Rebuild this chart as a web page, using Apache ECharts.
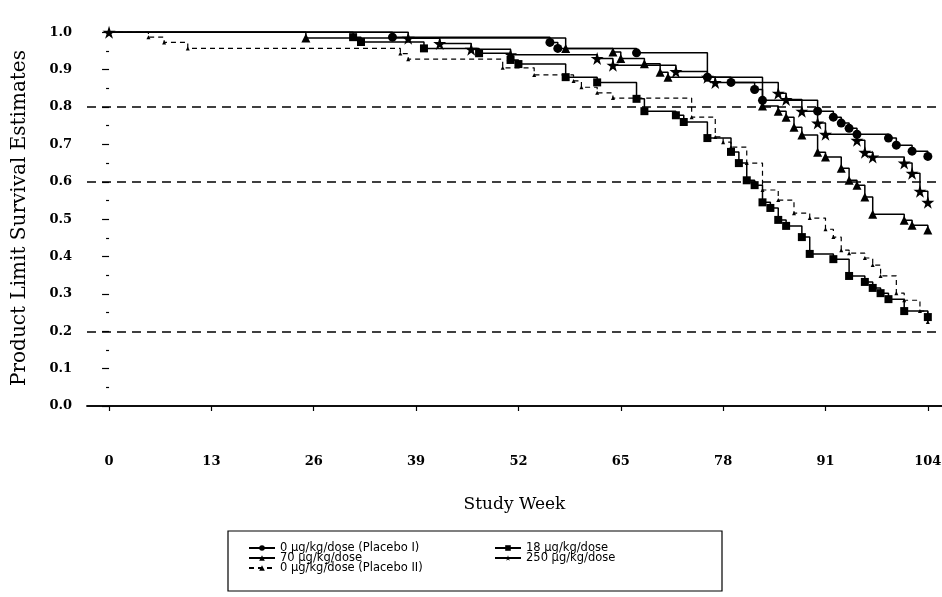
<!DOCTYPE html>
<html>
<head>
<meta charset="utf-8">
<script src="https://cdn.jsdelivr.net/npm/echarts@6/dist/echarts.min.js"></script>
<style>
html,body{margin:0;padding:0;background:#fff;}
#chart{width:942px;height:597px;}
</style>
</head>
<body>
<div id="chart"></div>
<script>
// ---- tick labels ----
const xTicks = [0, 13, 26, 39, 52, 65, 78, 91, 104];
const yTicks = [0.0, 0.1, 0.2, 0.3, 0.4, 0.5, 0.6, 0.7, 0.8, 0.9, 1.0];
const yMinorTicks = [0.05, 0.15, 0.25, 0.35, 0.45, 0.55, 0.65, 0.75, 0.85, 0.95];
const refLines = [0.8, 0.6, 0.2];

// ---- series names ----
const namePlaceboI = '0 \u00b5g/kg/dose (Placebo I)';
const name70 = '70 \u00b5g/kg/dose';
const namePlaceboII = '0 \u00b5g/kg/dose (Placebo II)';
const name18 = '18 \u00b5g/kg/dose';
const name250 = '250 \u00b5g/kg/dose';

// ---- Kaplan-Meier estimates (week, survival) ----
const placeboIWeeks = [0, 36, 56, 57, 67, 76, 79, 82, 83, 90, 92, 93, 94, 95, 99, 100, 102, 104];
const placeboISurv  = [1, 0.987, 0.973, 0.957, 0.945, 0.88, 0.866, 0.847, 0.818, 0.789, 0.773, 0.757, 0.743, 0.727, 0.717, 0.698, 0.682, 0.668];

const dose70Weeks = [0, 25, 58, 64, 65, 68, 70, 71, 83, 85, 86, 87, 88, 90, 91, 93, 94, 95, 96, 97, 101, 102, 104];
const dose70Surv  = [1, 0.985, 0.957, 0.947, 0.93, 0.916, 0.893, 0.88, 0.803, 0.789, 0.773, 0.746, 0.725, 0.679, 0.666, 0.636, 0.604, 0.591, 0.559, 0.513, 0.497, 0.484, 0.471];

const placeboIIWeeks = [0, 5, 7, 10, 37, 38, 50, 54, 59, 60, 62, 64, 74, 77, 78, 79, 81, 83, 85, 87, 89, 91, 92, 93, 94, 96, 97, 98, 100, 101, 103, 104];
const placeboIISurv  = [1, 0.987, 0.973, 0.957, 0.943, 0.928, 0.905, 0.886, 0.87, 0.853, 0.838, 0.824, 0.773, 0.72, 0.706, 0.693, 0.65, 0.578, 0.551, 0.516, 0.503, 0.473, 0.452, 0.417, 0.409, 0.396, 0.377, 0.348, 0.302, 0.283, 0.254, 0.225];

const dose18Weeks = [0, 31, 32, 40, 47, 51, 52, 58, 62, 67, 68, 72, 73, 76, 79, 80, 81, 82, 83, 84, 85, 86, 88, 89, 92, 94, 96, 97, 98, 99, 101, 104];
const dose18Surv  = [1, 0.987, 0.974, 0.957, 0.944, 0.926, 0.915, 0.88, 0.866, 0.822, 0.789, 0.778, 0.76, 0.717, 0.68, 0.65, 0.604, 0.591, 0.545, 0.53, 0.498, 0.482, 0.452, 0.407, 0.393, 0.348, 0.332, 0.316, 0.302, 0.286, 0.254, 0.238];

const dose250Weeks = [0, 38, 42, 46, 51, 62, 64, 72, 76, 77, 85, 86, 88, 90, 91, 95, 96, 97, 101, 102, 103, 104];
const dose250Surv  = [1, 0.984, 0.97, 0.955, 0.94, 0.93, 0.912, 0.895, 0.88, 0.866, 0.837, 0.82, 0.789, 0.757, 0.727, 0.711, 0.679, 0.666, 0.65, 0.623, 0.575, 0.545];

function pts(weeks, surv, showFirst) {
  return weeks.map((w, i) => {
    const p = { value: [w, surv[i]] };
    if (i === 0 && !showFirst) p.symbol = 'none';
    return p;
  });
}

const serif = 'DejaVu Serif';
const ink = '#000';
const starPath = 'path://M50,0 L61,35 L98,35 L68,57 L79,91 L50,70 L21,91 L32,57 L2,35 L39,35 Z';

function kmSeries(name, weeks, surv, symbol, size, dashed, showFirst) {
  return {
    name: name,
    type: 'line',
    step: 'end',
    data: pts(weeks, surv, showFirst),
    symbol: symbol,
    symbolSize: size,
    showAllSymbol: true,
    itemStyle: { color: ink },
    lineStyle: { color: ink, width: dashed ? 1.2 : 1.5, type: dashed ? [5, 4] : 'solid' },
    animation: false,
    z: 3
  };
}

const series = [
  kmSeries(namePlaceboI, placeboIWeeks, placeboISurv, 'circle', 9, false, false),
  kmSeries(name70, dose70Weeks, dose70Surv, 'triangle', 9, false, false),
  kmSeries(namePlaceboII, placeboIIWeeks, placeboIISurv, 'triangle', 4, true, false),
  kmSeries(name18, dose18Weeks, dose18Surv, 'rect', 8, false, false),
  kmSeries(name250, dose250Weeks, dose250Surv, starPath, 13, false, true)
];

series[0].markLine = {
  silent: true,
  symbol: ['none', 'none'],
  label: { show: false },
  lineStyle: { color: ink, width: 1.6, type: [9, 6] },
  data: refLines.map(v => ({ yAxis: v }))
};

const legendText = { color: ink, fontFamily: 'DejaVu Sans', fontSize: 11.5, lineHeight: 10 };

const chart = echarts.init(document.getElementById('chart'));
chart.setOption({
  backgroundColor: '#fff',
  animation: false,
  grid: { left: 87, right: 0, top: 10, bottom: 171, containLabel: false, outerBoundsMode: 'none' },
  xAxis: [{
    type: 'value',
    min: -2.8,
    max: 105.8,
    axisLine: { show: true, lineStyle: { color: ink, width: 1.5 } },
    axisTick: { show: true, customValues: xTicks, length: 5, lineStyle: { color: ink, width: 1.2 } },
    axisLabel: {
      customValues: xTicks,
      margin: 29,
      color: ink,
      fontFamily: serif,
      fontWeight: 'bold',
      fontSize: 13
    },
    splitLine: { show: false },
    name: 'Study Week',
    nameLocation: 'middle',
    nameGap: 70,
    nameTextStyle: { color: ink, fontFamily: serif, fontSize: 17 }
  }, {
    type: 'value',
    position: 'top',
    min: -2.8,
    max: 105.8,
    axisLine: { show: true, lineStyle: { color: ink, width: 1.5 } },
    axisTick: { show: false },
    axisLabel: { show: false },
    splitLine: { show: false }
  }],
  yAxis: [{
    type: 'value',
    min: -0.0535,
    max: 1.0597,
    axisLine: { show: false },
    axisTick: { show: true, customValues: yTicks, length: 7, lineStyle: { color: ink, width: 1.2 } },
    axisLabel: {
      customValues: yTicks,
      margin: 15,
      color: ink,
      fontFamily: serif,
      fontWeight: 'bold',
      fontSize: 13,
      formatter: v => v.toFixed(1)
    },
    splitLine: { show: false },
    name: 'Product Limit Survival Estimates',
    nameLocation: 'middle',
    nameRotate: 90,
    nameGap: 57,
    nameTextStyle: { color: ink, fontFamily: serif, fontSize: 20 }
  }, {
    type: 'value',
    position: 'left',
    min: -0.0535,
    max: 1.0597,
    axisLine: { show: false },
    axisTick: { show: true, customValues: yMinorTicks, length: 3, lineStyle: { color: ink, width: 1.2 } },
    axisLabel: { show: false },
    splitLine: { show: false }
  }],
  legend: [{
    orient: 'vertical',
    left: 243,
    top: 537,
    itemGap: -2,
    itemWidth: 26,
    itemHeight: 7,
    textStyle: legendText,
    data: [namePlaceboI, name70, namePlaceboII]
  }, {
    orient: 'vertical',
    left: 489,
    top: 537,
    itemGap: -2,
    itemWidth: 26,
    itemHeight: 7,
    textStyle: legendText,
    data: [name18, name250]
  }],
  graphic: [{
    type: 'rect',
    shape: { x: 228, y: 531, width: 494, height: 60 },
    style: { fill: 'none', stroke: ink, lineWidth: 1.2 },
    silent: true
  }],
  series: series
});
</script>
</body>
</html>
